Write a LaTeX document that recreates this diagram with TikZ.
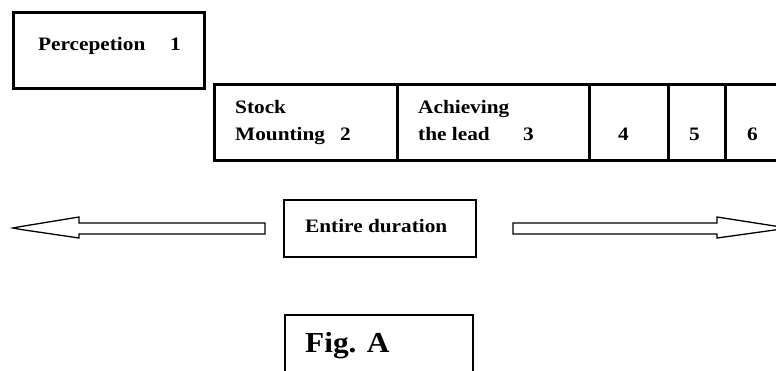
\documentclass[tikz,border=0pt]{standalone}
\usepackage{fontspec}
\setmainfont{Liberation Serif}
\newfontfamily\lblfont{Liberation Serif}[FakeStretch=1.12]
\newfontfamily\figfont{Liberation Serif}[FakeStretch=1.08]
\tikzset{
  lbl/.style={inner sep=0pt, anchor=base west, font=\lblfont\bfseries\fontsize{19}{22}\selectfont},
  figlbl/.style={inner sep=0pt, anchor=base west, font=\figfont\bfseries\fontsize{29}{32}\selectfont},
  thickbox/.style={draw, line width=3pt, inner sep=0pt},
  midbox/.style={draw, line width=2pt, inner sep=0pt},
  thinbox/.style={draw, line width=1.5pt, inner sep=0pt},
  bigarrow/.style={draw, line width=1.3pt, line join=miter}
}
\begin{document}
\begin{tikzpicture}[x=1pt,y=-1pt]
\useasboundingbox (0,0) rectangle (776,370);
% Perception box
\node[thickbox, minimum width=191pt, minimum height=76pt] (perc) at (108.5,50) {};
\node[lbl] (perct) at (38,50) {Percepetion};
\node[lbl] (n1) at (170,50) {1};
% Row of stages
\node[thickbox, minimum width=580pt, minimum height=76pt, anchor=north west] (row) at (213,83) {};
\coordinate (d1t) at (397,83); \coordinate (d1b) at (397,159);
\coordinate (d2t) at (589,83); \coordinate (d2b) at (589,159);
\coordinate (d3t) at (668,83); \coordinate (d3b) at (668,159);
\coordinate (d4t) at (725,83); \coordinate (d4b) at (725,159);
\draw[line width=3pt] (d1t) -- (d1b);
\draw[line width=3pt] (d2t) -- (d2b);
\draw[line width=3pt] (d3t) -- (d3b);
\draw[line width=3pt] (d4t) -- (d4b);
\node[lbl] (stock) at (235,113) {Stock};
\node[lbl] (mount) at (235,140) {Mounting};
\node[lbl] (n2) at (340,140) {2};
\node[lbl] (ach) at (418,113) {Achieving};
\node[lbl] (lead) at (418,140) {the lead};
\node[lbl] (n3) at (523,140) {3};
\node[lbl] (n4) at (618,140) {4};
\node[lbl] (n5) at (689,140) {5};
\node[lbl] (n6) at (747,140) {6};
% Entire duration
\node[midbox, minimum width=192pt, minimum height=57pt] (dur) at (380,228.5) {};
\node[lbl] (durt) at (305,232) {Entire duration};
% Arrows
\draw[bigarrow] (265,223) -- (79,223) -- (79,217) -- (21,226.5) -- (13,228) -- (21,229.5) -- (79,238) -- (79,234) -- (265,234) -- cycle;
\draw[bigarrow] (513,223) -- (717,223) -- (717,217) -- (776,226.2) -- (790,228) -- (776,229.8) -- (717,238) -- (717,234) -- (513,234) -- cycle;
% Fig. A
\node[thinbox, minimum width=188pt, minimum height=80pt, anchor=north west] (fig) at (284,314) {};
\node[figlbl] (figt) at (305,352) {Fig. A};
\end{tikzpicture}
\end{document}
